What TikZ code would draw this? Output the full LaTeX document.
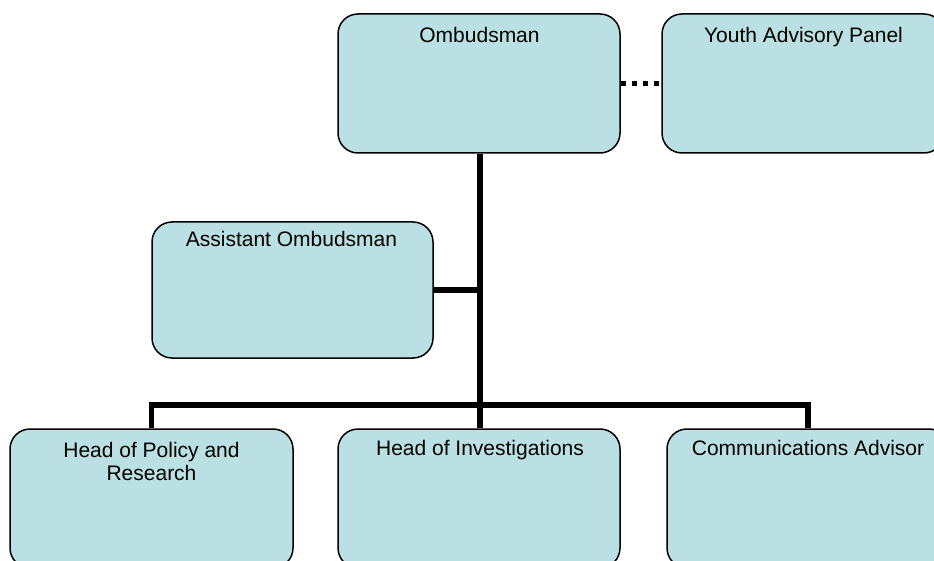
\documentclass[tikz,border=0pt]{standalone}
\usepackage{fontspec}
\setmainfont{Liberation Sans}
\usetikzlibrary{backgrounds}
\definecolor{boxfill}{HTML}{BBE0E3}
\begin{document}
\begin{tikzpicture}[x=1pt, y=-1pt,
  orgbox/.style={draw=black, line width=1.5pt, fill=boxfill, rectangle,
    rounded corners=20pt, inner sep=0pt},
  boxtext/.style={anchor=base, inner sep=0pt, align=center,
    font=\fontsize{21}{23.5}\selectfont},
  link/.style={draw=black, line width=5.5pt, line join=miter},
  dotlink/.style={draw=black, line width=5.5pt, dash pattern=on 5.5pt off 5.5pt}]
  \useasboundingbox (0,0) rectangle (934,561);
  \clip (0,0) rectangle (934,561);

  % boxes
  \node[orgbox, minimum width=282pt, minimum height=139pt] (omb)   at (479,83.5) {};
  \node[orgbox, minimum width=282pt, minimum height=139pt] (youth) at (803,83.5) {};
  \node[orgbox, minimum width=281pt, minimum height=136pt] (asst)  at (292.5,290) {};
  \node[orgbox, minimum width=283pt, minimum height=139pt] (hpr)   at (151.5,498.5) {};
  \node[orgbox, minimum width=282pt, minimum height=139pt] (hinv)  at (479,498.5) {};
  \node[orgbox, minimum width=282pt, minimum height=139pt] (comms) at (808,498.5) {};

  % titles (base anchor sits on the last line)
  \node[boxtext] (tomb)   at (479.5,43) {Ombudsman};
  \node[boxtext] (tyouth) at (803.5,43) {Youth Advisory Panel};
  \node[boxtext] (tasst)  at (291.5,246.5) {Assistant Ombudsman};
  \node[boxtext] (thpr)   at (151.5,480.5) {Head of Policy and\\Research};
  \node[boxtext] (thinv)  at (480,455) {Head of Investigations};
  \node[boxtext] (tcomms) at (808,455) {Communications Advisor};

  % reporting lines, kept behind the boxes
  \begin{scope}[on background layer]
    \coordinate (j) at (480,405);
    \draw[link] (omb.south -| j) -- (j);
    \draw[link] (asst.east) -- (asst.east -| j);
    \draw[link] (hpr.north) |- (j) -| (comms.north);
    \draw[link] (j) -- (hinv.north -| j);
    \draw[dotlink] (omb.east) -- (youth.west);
  \end{scope}
\end{tikzpicture}
\end{document}
